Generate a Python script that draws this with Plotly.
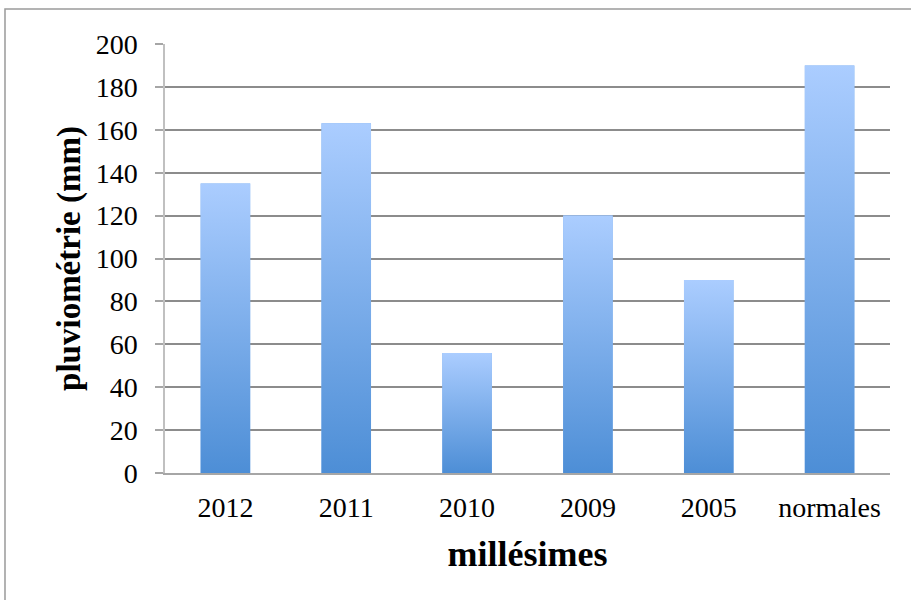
import plotly.graph_objects as go

categories = ["2012", "2011", "2010", "2009", "2005", "normales"]
values = [135, 163, 56, 120, 90, 190]
y_ticks = [0, 20, 40, 60, 80, 100, 120, 140, 160, 180, 200]

BAR_W = 0.41
TOP_C = "#abcdff"
BOT_C = "#4d8ed6"

xs = list(range(len(categories)))
fig = go.Figure()
fig.add_trace(go.Bar(x=xs, y=values, width=BAR_W, marker=dict(color="#7aaeec", line=dict(width=0)),
                     showlegend=False, hoverinfo="skip"))
for i, v in zip(xs, values):
    fig.add_trace(go.Scatter(
        x=[i - BAR_W / 2, i + BAR_W / 2, i + BAR_W / 2, i - BAR_W / 2, i - BAR_W / 2],
        y=[0, 0, v, v, 0], mode="lines", line=dict(width=0), fill="toself",
        fillgradient=dict(type="vertical", start=0, stop=v,
                          colorscale=[[0, BOT_C], [1, TOP_C]]),
        showlegend=False, hoverinfo="skip"))

serif = "Liberation Serif"
fig.update_layout(
    width=911, height=600,
    margin=dict(l=165, r=21, t=44, b=127),
    paper_bgcolor="white", plot_bgcolor="white",
    font=dict(family=serif, color="black"),
    xaxis=dict(range=[-0.5, len(categories) - 0.5], tickvals=xs, ticktext=categories,
               tickfont=dict(size=28), ticks="", ticklabelstandoff=8,
               showgrid=False, zeroline=False, showline=True, linecolor="#a6a6a6", linewidth=2,
               title=dict(text="<b>millésimes</b>", font=dict(size=36), standoff=19)),
    yaxis=dict(range=[0, 200], tickvals=y_ticks, tickfont=dict(size=28),
               ticks="outside", ticklen=8, tickcolor="#a6a6a6", tickwidth=1.5,
               ticklabelstandoff=12,
               showgrid=True, gridcolor="#8c8c8c", gridwidth=1.5, zeroline=False,
               showline=True, linecolor="#c0c0c0", linewidth=1.5,
               title=dict(text="<b>pluviométrie (mm)</b>", font=dict(size=33), standoff=5)),
    shapes=[dict(type="rect", xref="paper", yref="paper",
                 x0=-0.2207, x1=1.04, y0=-0.32, y1=1.0816,
                 line=dict(color="#9a9a9a", width=1.5), fillcolor="rgba(0,0,0,0)", layer="below")],
)
fig.write_html("out.html")
